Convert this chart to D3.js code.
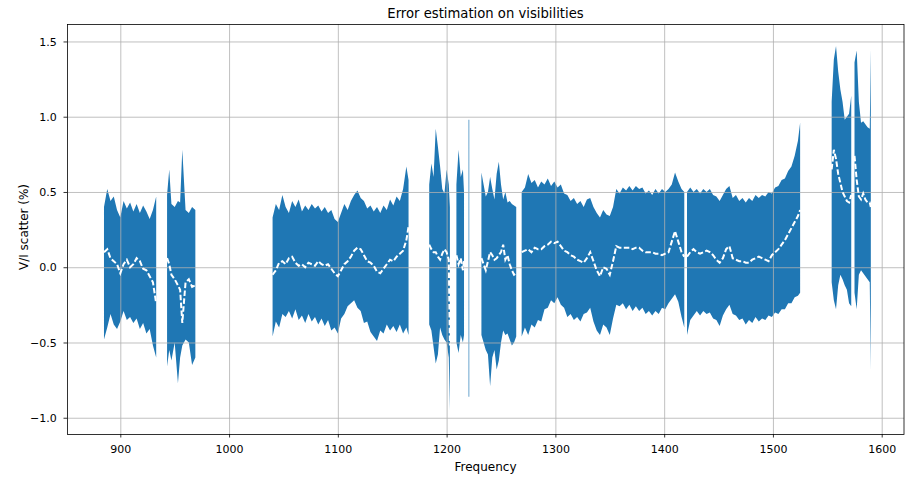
<!DOCTYPE html>
<meta charset="utf-8">
<style>

body {
  margin: 0;
  background: #fff;
}

svg text {
  font-family: "DejaVu Sans", sans-serif;
  fill: #000;
}

</style>
<svg id="chart" width="905" height="479"></svg>
<script src="https://d3js.org/d3.v7.min.js"></script>
<script>

// Frequency channels. A null in the value arrays marks a flagged gap.
var freq = [
  885,888,891,894,897,900,903,906,909,912,915,918,921,924,927,930,933,
  937,
  943,945,947,950,953,955,957,960,963,966,969,
  1005,
  1040,1043,1046,1049,1052,1055,1058,1061,1064,1067,1070,1073,1076,1079,1082,1085,1088,1091,1094,1097,
  1100,1103,1106,1109,1112,1115,1118,1121,1124,1127,1130,1133,1136,1139,1142,1145,1148,1151,1154,1157,
  1160,1163,1165,
  1175,
  1184,1186,1188,1190,1192,1194,1196,1198,1200,1202,1203,
  1205,
  1209,1211,1213,1215,1216,
  1218,
  1220.2,1220.8,
  1226,
  1232,1234,1236,1238,1240,1242,1244,1246,1248,1250,1252,1254,1256,1258,1260,1262,1264,
  1266.5,
  1269,1272,1275,1278,1281,1284,1287,1290,1293,1296,1299,1302,1305,1308,1311,1314,1317,1320,1323,1326,
  1329,1332,1335,1338,1341,1344,1347,1350,1353,1356,1359,1362,1365,1368,1371,1374,1377,1380,1383,1386,
  1389,1392,1395,1398,1401,1404,1407,1410,1413,1416,1418.5,
  1419.7,
  1421,1424,1427,1430,1433,1436,1439,1442,1445,1448,1451,1454,1457,1460,1463,1466,1469,1472,1475,1478,
  1481,1484,1487,1490,1493,1496,1499,1502,1505,1508,1511,1514,1517,1520,1523,1525,
  1540,
  1554,1556,1558,1560,1562,1564,1566,1568,1570,1572,
  1573.5,
  1575,1577,1579,1581,1583,1585,1587,1589,1590
];

// Upper edge of the scatter band (%)
var upper = [
  0.40,0.52,0.44,0.47,0.38,0.33,0.44,0.39,0.43,0.37,0.42,0.36,0.41,0.37,0.32,0.38,0.47,
  null,
  0.48,0.65,0.42,0.40,0.44,0.43,0.78,0.38,0.36,0.40,0.38,
  null,
  0.33,0.42,0.38,0.48,0.40,0.36,0.44,0.40,0.45,0.37,0.41,0.38,0.42,0.39,0.41,0.37,0.40,0.36,0.38,0.32,
  0.30,0.36,0.42,0.38,0.44,0.48,0.51,0.46,0.44,0.39,0.41,0.37,0.40,0.36,0.41,0.38,0.45,0.41,0.47,0.44,
  0.52,0.67,0.58,
  null,
  0.55,0.69,0.60,0.92,0.80,0.67,0.52,0.49,0.65,0.55,0.40,
  null,
  0.55,0.78,0.60,0.65,0.50,
  null,
  0.98,0.98,
  null,
  0.63,0.55,0.47,0.50,0.60,0.52,0.45,0.62,0.70,0.55,0.45,0.50,0.43,0.44,0.42,0.41,0.40,
  null,
  0.50,0.53,0.62,0.56,0.58,0.53,0.57,0.55,0.59,0.54,0.57,0.53,0.55,0.49,0.48,0.44,0.46,0.42,0.44,0.40,
  0.45,0.46,0.40,0.36,0.33,0.38,0.35,0.34,0.40,0.52,0.49,0.53,0.51,0.54,0.51,0.54,0.52,0.53,0.49,0.51,
  0.48,0.52,0.49,0.52,0.50,0.52,0.55,0.63,0.57,0.52,0.50,
  null,
  0.50,0.53,0.50,0.52,0.49,0.52,0.50,0.52,0.48,0.47,0.44,0.48,0.52,0.54,0.46,0.48,0.44,0.46,0.43,0.46,
  0.44,0.48,0.46,0.48,0.47,0.50,0.49,0.53,0.54,0.58,0.59,0.64,0.67,0.74,0.84,0.96,
  null,
  1.10,1.38,1.47,1.30,1.18,1.10,0.98,1.00,1.02,1.14,
  null,
  1.36,1.44,1.10,0.96,0.97,0.95,0.93,0.92,1.45
];

// Lower edge of the scatter band (%)
var lower = [
  -0.48,-0.40,-0.31,-0.38,-0.41,-0.36,-0.29,-0.35,-0.33,-0.37,-0.34,-0.41,-0.37,-0.44,-0.41,-0.52,-0.60,
  null,
  -0.66,-0.55,-0.62,-0.50,-0.77,-0.60,-0.52,-0.48,-0.50,-0.65,-0.60,
  null,
  -0.46,-0.36,-0.40,-0.31,-0.33,-0.29,-0.34,-0.28,-0.35,-0.32,-0.37,-0.31,-0.36,-0.33,-0.38,-0.34,-0.39,-0.35,-0.42,-0.40,
  -0.44,-0.34,-0.31,-0.26,-0.24,-0.22,-0.27,-0.29,-0.37,-0.36,-0.43,-0.46,-0.49,-0.42,-0.44,-0.38,-0.42,-0.39,-0.43,-0.38,
  -0.44,-0.40,-0.45,
  null,
  -0.38,-0.42,-0.53,-0.64,-0.58,-0.40,-0.45,-0.48,-0.50,-0.60,-0.95,
  null,
  -0.50,-0.57,-0.45,-0.50,-0.45,
  null,
  -0.86,-0.86,
  null,
  -0.45,-0.50,-0.55,-0.58,-0.79,-0.60,-0.55,-0.68,-0.62,-0.50,-0.42,-0.45,-0.44,-0.48,-0.52,-0.50,-0.46,
  null,
  -0.46,-0.40,-0.45,-0.38,-0.40,-0.35,-0.36,-0.28,-0.27,-0.22,-0.24,-0.20,-0.25,-0.27,-0.33,-0.31,-0.35,-0.33,-0.36,-0.31,
  -0.30,-0.27,-0.36,-0.42,-0.45,-0.38,-0.40,-0.45,-0.34,-0.25,-0.26,-0.24,-0.28,-0.25,-0.29,-0.26,-0.29,-0.27,-0.31,-0.29,
  -0.32,-0.29,-0.31,-0.27,-0.28,-0.24,-0.21,-0.18,-0.23,-0.33,-0.40,
  null,
  -0.45,-0.35,-0.32,-0.29,-0.32,-0.29,-0.31,-0.30,-0.34,-0.35,-0.39,-0.32,-0.28,-0.25,-0.31,-0.32,-0.35,-0.34,-0.38,-0.35,
  -0.37,-0.33,-0.36,-0.34,-0.35,-0.32,-0.33,-0.30,-0.31,-0.28,-0.28,-0.24,-0.24,-0.20,-0.19,-0.17,
  null,
  -0.10,-0.22,-0.28,-0.12,-0.05,-0.08,-0.12,-0.15,-0.24,-0.26,
  null,
  -0.17,-0.28,-0.05,-0.02,-0.04,-0.06,-0.08,-0.10,-0.68
];

// Mean V/I scatter (%), drawn as the white dashed line
var mean = [
  0.10,0.12,0.06,0.04,0.02,-0.04,0.02,0.05,0.00,0.02,0.06,0.04,-0.01,-0.02,-0.06,-0.10,-0.24,
  null,
  0.06,0.02,-0.05,-0.08,-0.12,-0.15,-0.37,-0.10,-0.08,-0.13,-0.12,
  null,
  -0.05,-0.02,0.03,0.04,0.02,0.06,0.07,0.03,0.01,0.02,0.00,0.03,0.02,0.01,0.04,0.02,0.01,0.02,-0.01,-0.04,
  -0.06,-0.02,0.02,0.04,0.07,0.11,0.13,0.12,0.08,0.04,0.03,0.01,-0.03,-0.04,-0.01,0.02,0.05,0.04,0.07,0.09,
  0.11,0.18,0.27,
  null,
  0.15,0.12,0.10,0.10,0.07,0.05,0.09,0.12,0.10,0.05,-0.52,
  null,
  0.08,0.02,0.06,-0.02,0.04,
  null,
  null,null,
  null,
  0.06,0.02,-0.02,0.04,0.10,0.08,0.05,0.06,0.08,0.10,0.15,0.05,0.08,0.02,-0.02,-0.05,-0.04,
  null,
  0.10,0.11,0.12,0.10,0.13,0.12,0.12,0.14,0.15,0.17,0.16,0.17,0.14,0.11,0.10,0.08,0.07,0.05,0.04,0.03,
  0.06,0.10,0.04,-0.02,-0.06,0.00,-0.01,-0.05,0.04,0.14,0.13,0.13,0.13,0.13,0.12,0.13,0.13,0.11,0.10,0.10,
  0.10,0.09,0.09,0.08,0.09,0.10,0.17,0.24,0.17,0.10,0.07,
  null,
  0.07,0.10,0.12,0.10,0.09,0.10,0.11,0.10,0.08,0.05,0.03,0.06,0.12,0.14,0.06,0.05,0.04,0.04,0.03,0.03,
  0.05,0.06,0.07,0.06,0.05,0.04,0.08,0.10,0.12,0.15,0.18,0.22,0.26,0.30,0.34,0.38,
  null,
  0.65,0.78,0.72,0.62,0.56,0.50,0.47,0.44,0.43,0.48,
  null,
  0.74,0.58,0.47,0.45,0.49,0.45,0.43,0.43,0.40
];

var xTicks = [900, 1000, 1100, 1200, 1300, 1400, 1500, 1600];
var yTicks = [-1.0, -0.5, 0.0, 0.5, 1.0, 1.5];

var data = freq.map(function(f, i) {
  return {f: f, hi: upper[i], lo: lower[i], m: mean[i]};
});

var svg = d3.select("svg"),
    margin = {top: 24, right: 1, bottom: 45, left: 67},
    width = +svg.attr("width") - margin.left - margin.right,
    height = +svg.attr("height") - margin.top - margin.bottom,
    g = svg.append("g").attr("transform", "translate(" + margin.left + "," + margin.top + ")");

var x = d3.scaleLinear()
    .domain([851, 1620.5])
    .range([0, width]);

var y = d3.scaleLinear()
    .domain([-1.108, 1.616])
    .range([height, 0]);

// band
var area = d3.area()
    .defined(function(d) { return d.hi != null; })
    .x(function(d) { return x(d.f); })
    .y0(function(d) { return y(d.lo); })
    .y1(function(d) { return y(d.hi); });

g.append("path")
    .datum(data)
    .attr("fill", "#1f77b4")
    .attr("d", area);

// grid sits above the band, below the line (matplotlib zorder)
g.append("g")
    .attr("class", "grid")
    .attr("transform", "translate(0," + height + ")")
    .call(d3.axisBottom(x).tickValues(xTicks).tickSize(-height).tickFormat(""));

g.append("g")
    .attr("class", "grid")
    .call(d3.axisLeft(y).tickValues(yTicks).tickSize(-width).tickFormat(""));

g.selectAll(".grid .domain").remove();
g.selectAll(".grid line")
    .attr("stroke", "#b0b0b0")
    .attr("stroke-width", 0.8);

var line = d3.line()
    .defined(function(d) { return d.m != null; })
    .x(function(d) { return x(d.f); })
    .y(function(d) { return y(d.m); });

g.append("path")
    .datum(data)
    .attr("fill", "none")
    .attr("stroke", "#fff")
    .attr("stroke-width", 2)
    .attr("stroke-dasharray", "5.5,2.4")
    .attr("d", line);

// axes
var xAxis = g.append("g")
    .attr("transform", "translate(0," + height + ")")
    .call(d3.axisBottom(x).tickValues(xTicks).tickSize(3.5).tickPadding(7.4).tickFormat(d3.format("d")));

var yAxis = g.append("g")
    .call(d3.axisLeft(y).tickValues(yTicks).tickSize(3.5).tickPadding(6.8).tickFormat(d3.format(".1f")));

[xAxis, yAxis].forEach(function(a) {
  a.select(".domain").remove();
  a.selectAll("line").attr("stroke", "#000").attr("stroke-width", 0.8);
  a.selectAll("text")
      .attr("fill", "#000")
      .style("font-family", '"DejaVu Sans", sans-serif')
      .style("font-size", "11px");
});
yAxis.selectAll("text").attr("dy", "0.34em");

// frame
g.append("rect")
    .attr("x", 0.5)
    .attr("y", 0.5)
    .attr("width", width - 0.5)
    .attr("height", height)
    .attr("fill", "none")
    .attr("stroke", "#000")
    .attr("stroke-width", 0.8);

svg.append("text")
    .attr("x", margin.left + width / 2)
    .attr("y", 17.5)
    .attr("text-anchor", "middle")
    .style("font-size", "13.2px")
    .text("Error estimation on visibilities");

svg.append("text")
    .attr("x", margin.left + width / 2)
    .attr("y", 471)
    .attr("text-anchor", "middle")
    .style("font-size", "12px")
    .text("Frequency");

svg.append("text")
    .attr("transform", "translate(28,227) rotate(-90)")
    .attr("text-anchor", "middle")
    .style("font-size", "12px")
    .text("V/I scatter (%)");

</script>
